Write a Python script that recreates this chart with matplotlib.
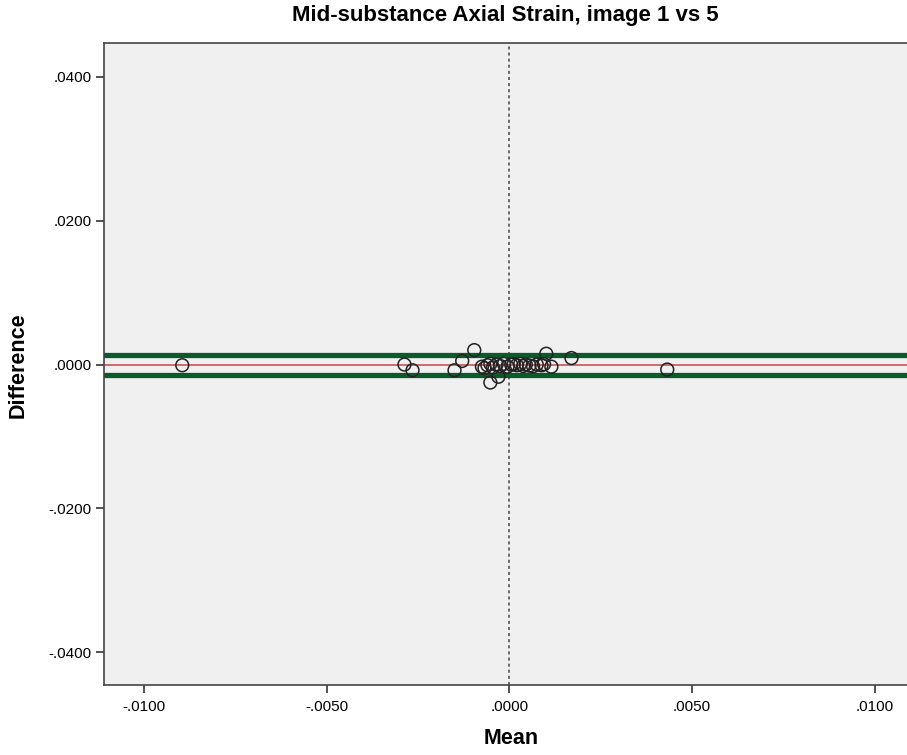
import matplotlib
matplotlib.use("Agg")
import matplotlib.pyplot as plt
from matplotlib.ticker import FuncFormatter

plt.rcParams['font.family'] = ['Liberation Sans', 'DejaVu Sans']

title = "Mid-substance Axial Strain, image 1 vs 5"
mean_vals = [-0.00895, -0.00287, -0.00265, -0.00150, -0.00129, -0.00096,
             -0.00052, -0.00030,
             -0.00075, -0.00068, -0.00060, -0.00052, -0.00045, -0.00035, -0.00025,
             -0.00015, -0.00005, 0.00005, 0.00012, 0.00020, 0.00030, 0.00038,
             0.00045, 0.00055, 0.00065, 0.00075, 0.00088, 0.00095,
             0.00101, 0.00115, 0.00170, 0.00432]
diff_vals = [-0.00010, 0.00000, -0.00080, -0.00080, 0.00050, 0.00200,
             -0.00250, -0.00170,
             -0.00030, -0.00050, -0.00010, 0.00010, -0.00040, 0.00000, -0.00020,
             0.00010, -0.00030, 0.00000, 0.00005, -0.00010, 0.00010, -0.00020,
             0.00000, -0.00015, -0.00025, 0.00000, -0.00010, 0.00005,
             0.00150, -0.00030, 0.00090, -0.00070]
mean_diff = -0.00005
upper_loa = 0.00139
lower_loa = -0.00149
xticks = [-0.01, -0.005, 0.0, 0.005, 0.01]
yticks = [-0.04, -0.02, 0.0, 0.02, 0.04]

def fmt(v, pos=None):
    s = f"{v:.4f}"
    if s.startswith("-0"):
        s = "-" + s[2:]
    elif s.startswith("0"):
        s = s[1:]
    if s == "-.0000":
        s = ".0000"
    return s

fig = plt.figure(figsize=(9.07, 7.55), dpi=100)
ax = fig.add_axes([0.1147, 0.0927, 0.8853, 0.8503])
ax.set_facecolor('#f0f0f0')

ax.axvline(0, color='#444444', linestyle=(0, (2, 2)), linewidth=1.1, zorder=1)
ax.axhline(upper_loa, color='#0c5a2a', linewidth=3.8, zorder=2)
ax.axhline(lower_loa, color='#0c5a2a', linewidth=3.8, zorder=2)
ax.axhline(mean_diff, color='#d06a6a', linewidth=1.4, zorder=2)
ax.scatter(mean_vals, diff_vals, s=85, facecolors='none', edgecolors='#222222',
           linewidths=1.1, zorder=3)

ax.set_xlim(-0.01109, 0.01088)
ax.set_ylim(-0.04458, 0.04472)
ax.set_xticks(xticks)
ax.set_yticks(yticks)
ax.xaxis.set_major_formatter(FuncFormatter(fmt))
ax.yaxis.set_major_formatter(FuncFormatter(fmt))
ax.tick_params(direction='out', length=6, width=1.2, labelsize=11, color='#333333')
ax.tick_params(axis='x', pad=5)
ax.tick_params(axis='y', pad=3)

for s in ['left', 'bottom', 'top']:
    ax.spines[s].set_color('#444444')
    ax.spines[s].set_linewidth(1.2)
ax.spines['right'].set_visible(False)

fig.text(511 / 907, 1 - 738 / 755, "Mean", ha='center', va='center',
         fontsize=15.5, fontweight='bold')
fig.text(18 / 907, 1 - 365 / 755, "Difference", ha='center', va='center',
         rotation=90, fontsize=15.5, fontweight='bold')
fig.text(505 / 907, 1 - 15 / 755, title, ha='center', va='center',
         fontsize=16, fontweight='bold')

fig.savefig("out.png", dpi=100)
